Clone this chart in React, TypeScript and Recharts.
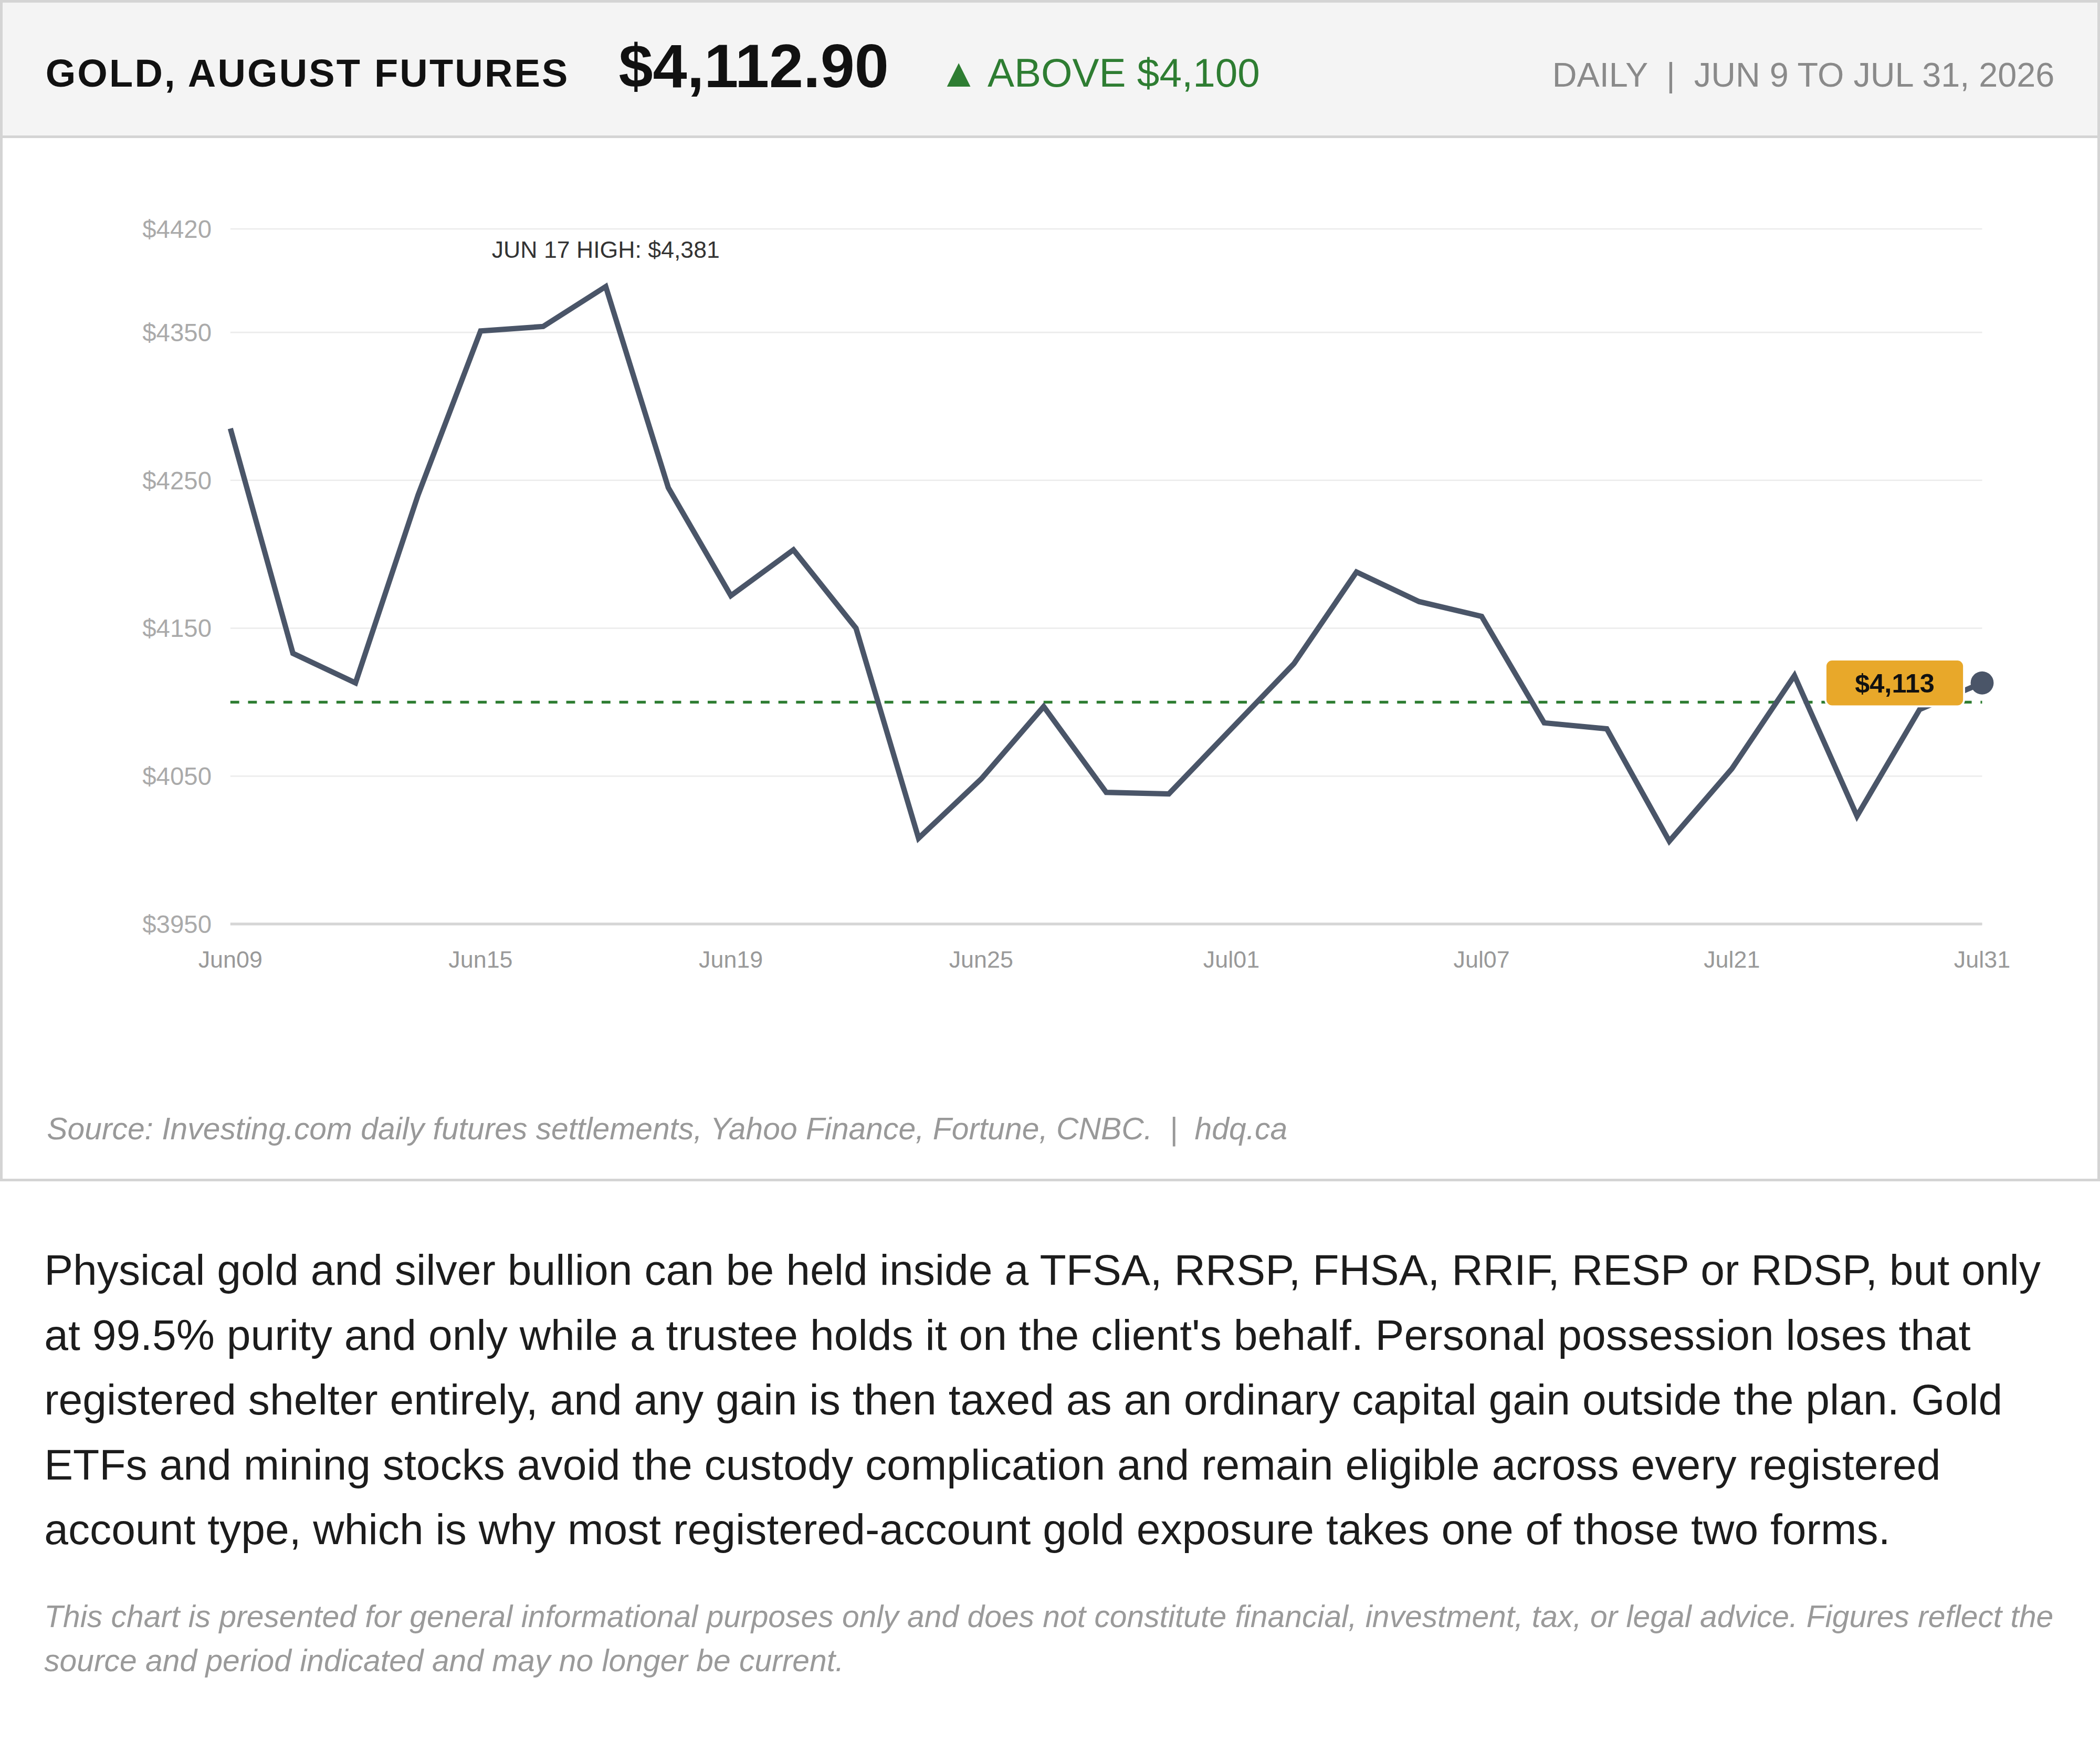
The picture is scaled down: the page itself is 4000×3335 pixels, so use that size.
import React from 'react';
import { LineChart, Line, XAxis, YAxis, CartesianGrid, ReferenceLine } from 'recharts';

const K = 4000 / 1568;
const s = (n: number) => n * K;
const FONT = '"Liberation Sans", Arial, Helvetica, sans-serif';

// ---- data ----
const dates = [
  'Jun09', 'Jun10', 'Jun11', 'Jun12', 'Jun15', 'Jun16', 'Jun17', 'Jun18', 'Jun19',
  'Jun22', 'Jun23', 'Jun24', 'Jun25', 'Jun26', 'Jun29', 'Jun30', 'Jul01', 'Jul02',
  'Jul03', 'Jul06', 'Jul07', 'Jul09', 'Jul14', 'Jul17', 'Jul21', 'Jul23', 'Jul27',
  'Jul29', 'Jul31',
];
const prices = [
  4285, 4133, 4113, 4240, 4351, 4354, 4381, 4245, 4172,
  4203, 4150, 4008, 4048, 4097, 4039, 4038, 4082, 4126,
  4188, 4168, 4158, 4086, 4082, 4006, 4055, 4118, 4023,
  4095, 4113,
];
const yTicks = [3950, 4050, 4150, 4250, 4350, 4420];
const yDomain = [3950, 4420];
const threshold = 4100;
const highIndex = 6;
const highLabel = 'JUN 17 HIGH';

const data = dates.map((d, i) => ({ date: d, price: prices[i] }));
const fmt = (v: number) => Math.round(v).toLocaleString('en-US');

const renderDot = (props: any) => {
  const { cx, cy, index, payload } = props;
  const key = `dot-${index}`;
  const v = payload ? payload.price : prices[index];
  if (index === highIndex) {
    return (
      <text key={key} x={cx} y={cy - s(21.6)} textAnchor="middle" fontSize={s(17.5)} fill="#333" fontFamily={FONT}>
        {`${highLabel}: $${fmt(v)}`}
      </text>
    );
  }
  if (index === prices.length - 1) {
    const w = s(103.5);
    const h = s(35);
    const bx = cx - s(13.5) - w;
    return (
      <g key={key}>
        <circle cx={cx} cy={cy} r={s(8.6)} fill="#4a5568" />
        <rect x={bx} y={cy - h / 2} width={w} height={h} rx={s(5)} ry={s(5)} fill="#e8a82a" stroke="#ffffff" strokeWidth={s(1.5)} />
        <text x={bx + w / 2} y={cy} dy="0.36em" textAnchor="middle" fontSize={s(19.8)} fontWeight="bold" fill="#111" fontFamily={FONT}>
          {`$${fmt(v)}`}
        </text>
      </g>
    );
  }
  return <g key={key} />;
};

const BASE = 63;
const headerItem = (left: number, fontSize: number, extra: React.CSSProperties, text: React.ReactNode) => (
  <div
    style={{
      position: 'absolute',
      left: s(left),
      top: s(BASE - 0.8465 * fontSize),
      fontSize: s(fontSize),
      lineHeight: 1,
      whiteSpace: 'nowrap',
      ...extra,
    }}
  >
    {text}
  </div>
);

const bodyLines = [
  'Physical gold and silver bullion can be held inside a TFSA, RRSP, FHSA, RRIF, RESP or RDSP, but only',
  "at 99.5% purity and only while a trustee holds it on the client's behalf. Personal possession loses that",
  'registered shelter entirely, and any gain is then taxed as an ordinary capital gain outside the plan. Gold',
  'ETFs and mining stocks avoid the custody complication and remain eligible across every registered',
  'account type, which is why most registered-account gold exposure takes one of those two forms.',
];
const disclaimerLines = [
  'This chart is presented for general informational purposes only and does not constitute financial, investment, tax, or legal advice. Figures reflect the',
  'source and period indicated and may no longer be current.',
];

export default function App() {
  return (
    <div
      style={{
        position: 'absolute',
        left: 0,
        top: 0,
        width: 4000,
        height: 3335,
        background: '#ffffff',
        fontFamily: FONT,
        overflow: 'hidden',
      }}
    >
      {/* card */}
      <div
        style={{
          position: 'absolute',
          left: 0,
          top: 0,
          width: 4000,
          height: s(882),
          boxSizing: 'border-box',
          border: `${s(2)}px solid #d4d4d4`,
          background: '#ffffff',
        }}
      />
      {/* header */}
      <div
        style={{
          position: 'absolute',
          left: 0,
          top: 0,
          width: 4000,
          height: s(103),
          boxSizing: 'border-box',
          border: `${s(2)}px solid #d4d4d4`,
          background: '#f4f4f4',
        }}
      >
        {headerItem(32, 29, { fontWeight: 'bold', color: '#111', letterSpacing: s(1.25) }, 'GOLD, AUGUST FUTURES')}
        {headerItem(460, 45.9, { fontWeight: 'bold', color: '#111' }, '$4,112.90')}
        {headerItem(699, 30, { color: '#2e7d32' }, '▲ ABOVE $4,100')}
        <div
          style={{
            position: 'absolute',
            right: s(32),
            top: s(BASE - 0.8465 * 25.4),
            fontSize: s(25.4),
            lineHeight: 1,
            color: '#8a8a8a',
            whiteSpace: 'pre',
          }}
        >
          {'DAILY  |  JUN 9 TO JUL 31, 2026'}
        </div>
      </div>

      {/* chart */}
      <div style={{ position: 'absolute', left: 0, top: s(104) }}>
        <LineChart
          width={4000}
          height={s(700)}
          data={data}
          margin={{ top: s(67), right: s(88), bottom: s(74), left: 0 }}
        >
          <CartesianGrid vertical={false} stroke="#ebebeb" strokeWidth={s(1)} />
          <XAxis
            dataKey="date"
            interval={3}
            axisLine={{ stroke: '#d6d6d6', strokeWidth: s(2) }}
            tickLine={false}
            tickSize={0}
            tickMargin={s(20)}
            height={s(40)}
            tick={{ fill: '#999999', fontSize: s(17.6), fontFamily: FONT }}
          />
          <YAxis
            domain={yDomain}
            ticks={yTicks}
            type="number"
            allowDataOverflow
            width={s(172)}
            axisLine={false}
            tickLine={false}
            tickSize={0}
            tickMargin={s(14)}
            tickFormatter={(v: number) => `$${v}`}
            tick={{ fill: '#aaaaaa', fontSize: s(18.6), fontFamily: FONT }}
          />
          <ReferenceLine
            y={threshold}
            stroke="#2e7d32"
            strokeWidth={s(2.1)}
            strokeDasharray={`${s(6.6)} ${s(6.6)}`}
          />
          <Line
            type="linear"
            dataKey="price"
            stroke="#4a5568"
            strokeWidth={s(4)}
            dot={renderDot}
            activeDot={false}
            isAnimationActive={false}
          />
        </LineChart>
      </div>

      {/* source */}
      <div
        style={{
          position: 'absolute',
          left: s(35),
          top: s(851 - 0.8465 * 23),
          fontSize: s(23.05),
          lineHeight: 1,
          fontStyle: 'italic',
          color: '#999999',
          whiteSpace: 'pre',
        }}
      >
        {'Source: Investing.com daily futures settlements, Yahoo Finance, Fortune, CNBC.  |  hdq.ca'}
      </div>

      {/* body paragraph */}
      <div
        style={{
          position: 'absolute',
          left: s(33),
          top: s(924),
          fontSize: s(32.25),
          lineHeight: `${s(48.4)}px`,
          color: '#1c1c1c',
          whiteSpace: 'nowrap',
        }}
      >
        {bodyLines.map((l, i) => (
          <div key={i}>{l}</div>
        ))}
      </div>

      {/* disclaimer */}
      <div
        style={{
          position: 'absolute',
          left: s(33),
          top: s(1190.5),
          fontSize: s(23.05),
          lineHeight: `${s(33)}px`,
          fontStyle: 'italic',
          color: '#9a9a9a',
          whiteSpace: 'nowrap',
        }}
      >
        {disclaimerLines.map((l, i) => (
          <div key={i}>{l}</div>
        ))}
      </div>
    </div>
  );
}
